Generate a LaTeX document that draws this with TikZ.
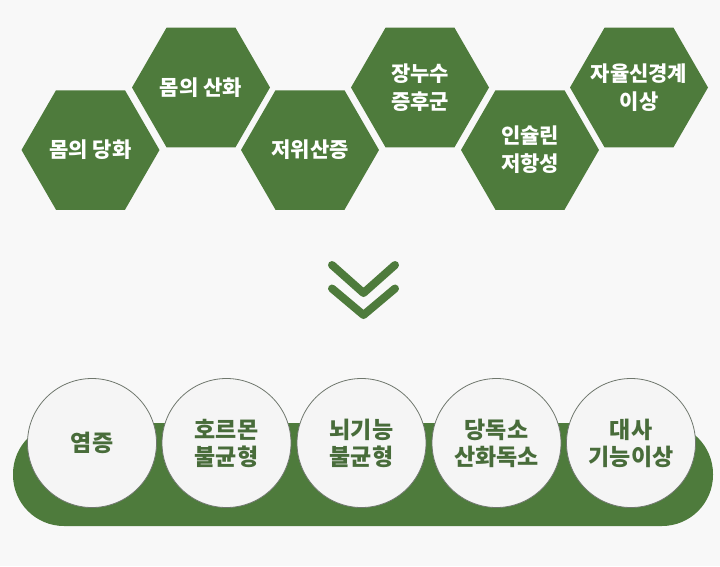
\documentclass[tikz,border=0pt]{standalone}
\usepackage{fontspec}
\setmainfont{Noto Sans CJK KR}
\usetikzlibrary{shapes.geometric}
\definecolor{bg}{HTML}{F8F8F8}
\definecolor{leaf}{HTML}{4E7B3C}
\definecolor{leafdark}{HTML}{486C3A}
\definecolor{disc}{HTML}{F5F5F5}
\definecolor{rim}{HTML}{6F776D}
\tikzset{
  hexa/.style={regular polygon, regular polygon sides=6, minimum size=138pt, inner sep=0pt, fill=leaf, draw=none},
  hextext/.style={text=white, font=\fontsize{21}{28}\selectfont\bfseries, align=center, inner sep=0pt},
  disc/.style={circle, minimum size=129pt, inner sep=0pt, fill=disc, draw=rim, line width=0.8pt, text=leafdark, font=\fontsize{23}{27}\selectfont\bfseries, align=center},
  chev/.style={draw=leaf, line width=8pt, line cap=round, line join=round},
}
\begin{document}
\begin{tikzpicture}[x=1pt,y=-1pt]
\fill[bg] (0,0) rectangle (720,566);
\useasboundingbox (0,0) rectangle (720,566);
% hexagons
\node[hexa] (h1) at (90.5,150) {};
\node[hexa] (h2) at (201,87.5) {};
\node[hexa] (h3) at (310,150) {};
\node[hexa] (h4) at (420,87.5) {};
\node[hexa] (h5) at (530,150) {};
\node[hexa] (h6) at (639,87.5) {};
\node[hextext] (t1) at (h1) {몸의 당화};
\node[hextext] (t2) at (h2) {몸의 산화};
\node[hextext] (t3) at (h3) {저위산증};
\node[hextext] (t4) at (h4) {장누수\\증후군};
\node[hextext] (t5) at (h5) {인슐린\\저항성};
\node[hextext] (t6) at (h6) {자율신경계\\이상};
% chevrons
\coordinate (c1a) at (332,265);
\coordinate (c1b) at (363.5,293);
\coordinate (c1c) at (395,265);
\coordinate (c2a) at (332,288.5);
\coordinate (c2b) at (363.5,315);
\coordinate (c2c) at (395,288.5);
\draw[chev] (c1a) -- (c1b) -- (c1c);
\draw[chev] (c2a) -- (c2b) -- (c2c);
% band
\fill[leaf, rounded corners=51pt] (13,423) rectangle (713,526);
% circles
\node[disc] (d1) at (92,443) {염증};
\node[disc] (d2) at (226.5,443) {호르몬\\불균형};
\node[disc] (d3) at (361.5,443) {뇌기능\\불균형};
\node[disc] (d4) at (496.5,443) {당독소\\산화독소};
\node[disc] (d5) at (631,443) {대사\\기능이상};
\end{tikzpicture}
\end{document}
